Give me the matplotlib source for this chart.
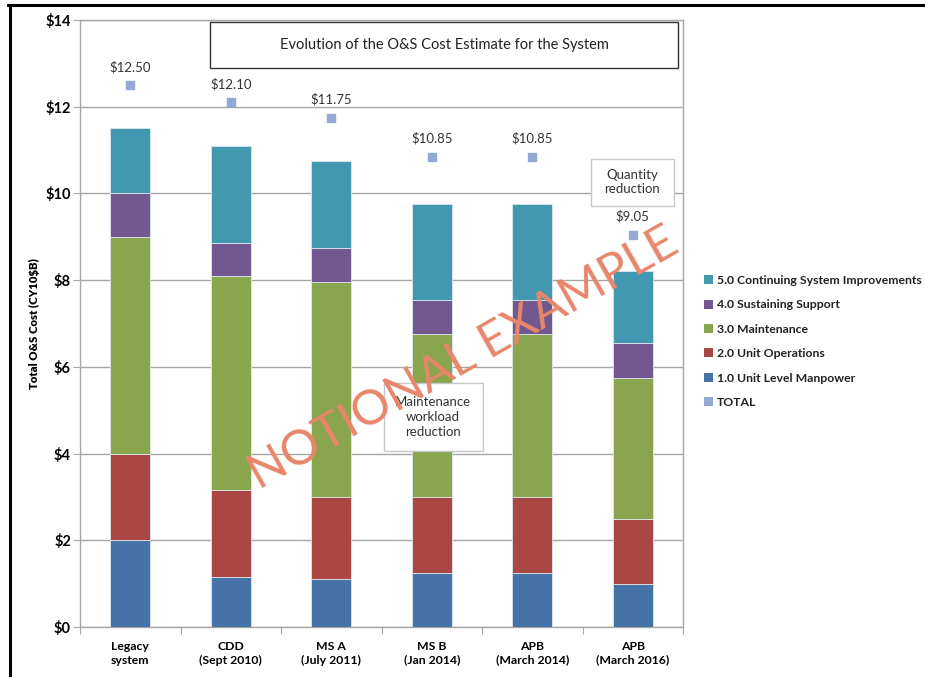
import matplotlib
matplotlib.use("Agg")
import matplotlib.pyplot as plt
from matplotlib.patches import Patch, Rectangle
from matplotlib.lines import Line2D
import numpy as np

plt.rcParams['font.family'] = ['Lato', 'DejaVu Sans']

categories = ["Legacy\nsystem", "CDD\n(Sept 2010)", "MS A\n(July 2011)",
              "MS B\n(Jan 2014)", "APB\n(March 2014)", "APB\n(March 2016)"]

manpower = [2.00, 1.15, 1.10, 1.25, 1.25, 1.00]
unit_ops = [2.00, 2.00, 1.90, 1.75, 1.75, 1.50]
maintenance = [5.00, 4.95, 4.95, 3.75, 3.75, 3.25]
sustaining = [1.00, 0.75, 0.80, 0.80, 0.80, 0.80]
improvements = [1.50, 2.25, 2.00, 2.20, 2.20, 1.65]
totals = [12.50, 12.10, 11.75, 10.85, 10.85, 9.05]

series = [
    ("1.0 Unit Level Manpower", manpower, "#4572A7"),
    ("2.0 Unit Operations", unit_ops, "#AA4643"),
    ("3.0 Maintenance", maintenance, "#89A54E"),
    ("4.0 Sustaining Support", sustaining, "#71588F"),
    ("5.0 Continuing System Improvements", improvements, "#4198AF"),
]
total_color = "#93A9D3"

fig = plt.figure(figsize=(9.25, 6.77), dpi=100)
ax = fig.add_axes([80 / 925, 50 / 677, 603 / 925, 607 / 677])

x = np.arange(len(categories))
bottom = np.zeros(len(categories))
for name, vals, color in series:
    ax.bar(x, vals, width=0.4, bottom=bottom, color=color,
           edgecolor="#dfe6ee", linewidth=0.6, zorder=3, label=name)
    bottom += np.array(vals)

ax.scatter(x, totals, marker="s", s=28, color=total_color, zorder=4)
for xi, t in zip(x, totals):
    ax.text(xi, t + 0.27, f"${t:.2f}", ha="center", va="bottom",
            fontsize=9.5, color="#333333", zorder=5)

ax.set_xlim(-0.5, len(categories) - 0.5)
ax.set_ylim(0, 14)
ax.set_yticks(np.arange(0, 15, 2))
ax.set_yticklabels([f"${v}" for v in range(0, 15, 2)], fontsize=10.5,
                   fontweight="bold")
ax.yaxis.grid(True, color="#a6a6a6", linewidth=1.0, zorder=0)
ax.set_axisbelow(True)

ax.set_xticks(np.arange(-0.5, len(categories), 1.0))
ax.set_xticklabels([])
ax.set_xticks(x, minor=True)
ax.set_xticklabels(categories, minor=True, fontsize=8.8, fontweight="bold",
                   linespacing=1.3)
ax.tick_params(axis="x", which="minor", length=0, pad=10)
ax.tick_params(axis="x", which="major", length=5, color="#a6a6a6")
ax.tick_params(axis="y", length=5, color="#a6a6a6", pad=1.5)

for side in ["left", "bottom", "right", "top"]:
    ax.spines[side].set_color("#a6a6a6")
    ax.spines[side].set_linewidth(1.0)

ax.set_ylabel("Total O&S Cost (CY10$B)", fontsize=8.2, fontweight="heavy",
              labelpad=4)

# Title box
fig.patches.append(Rectangle((210 / 925, 1 - 68 / 677), 468 / 925, 46 / 677,
                             transform=fig.transFigure, fill=True,
                             facecolor="white", edgecolor="#333333",
                             linewidth=1.0, zorder=2))
fig.text(444 / 925, 1 - 45 / 677,
         "Evolution of the O&S Cost Estimate for the System",
         ha="center", va="center", fontsize=10.5, color="#222222", zorder=3)

# Annotation boxes
fig.patches.append(Rectangle((384 / 925, 1 - 451 / 677), 99 / 925, 68 / 677,
                             transform=fig.transFigure, facecolor="white",
                             edgecolor="#c8c8c8", linewidth=1.0, zorder=5))
fig.text(433 / 925, 1 - 417 / 677, "Maintenance\nworkload\nreduction",
         ha="center", va="center", fontsize=9.5, color="#333333",
         linespacing=1.25, zorder=6)
fig.patches.append(Rectangle((591 / 925, 1 - 206 / 677), 83 / 925, 47 / 677,
                             transform=fig.transFigure, facecolor="white",
                             edgecolor="#c8c8c8", linewidth=1.0, zorder=5))
fig.text(632 / 925, 1 - 182 / 677, "Quantity\nreduction",
         ha="center", va="center", fontsize=9.5, color="#333333",
         linespacing=1.25, zorder=6)

# Watermark
fig.text(463 / 925, 1 - 358 / 677, "NOTIONAL EXAMPLE", rotation=29.5,
         ha="center", va="center", fontsize=35, color="#E8866A",
         fontweight="normal", zorder=20)

# Legend
handles = [Patch(facecolor=c, edgecolor="none") for _, _, c in series[::-1]]
handles.append(Patch(facecolor=total_color, edgecolor="none"))
labels = [n for n, _, _ in series[::-1]] + ["TOTAL"]
leg = fig.legend(handles, labels, loc="upper left",
                 bbox_to_anchor=(699 / 925, 1 - 270 / 677), frameon=False,
                 fontsize=8.8, handlelength=0.75, handleheight=0.75,
                 handletextpad=0.35, labelspacing=1.1, borderaxespad=0)
for t in leg.get_texts():
    t.set_fontweight("bold")
    t.set_color("#222222")

# Outer frame
fig.add_artist(Line2D([8 / 925, 1.0], [1 - 5 / 677, 1 - 5 / 677],
                      transform=fig.transFigure, color="black", linewidth=2.2))
fig.add_artist(Line2D([9.5 / 925, 9.5 / 925], [0, 1 - 5 / 677],
                      transform=fig.transFigure, color="black", linewidth=2.2))

fig.savefig("out.png", dpi=100, facecolor="white")
